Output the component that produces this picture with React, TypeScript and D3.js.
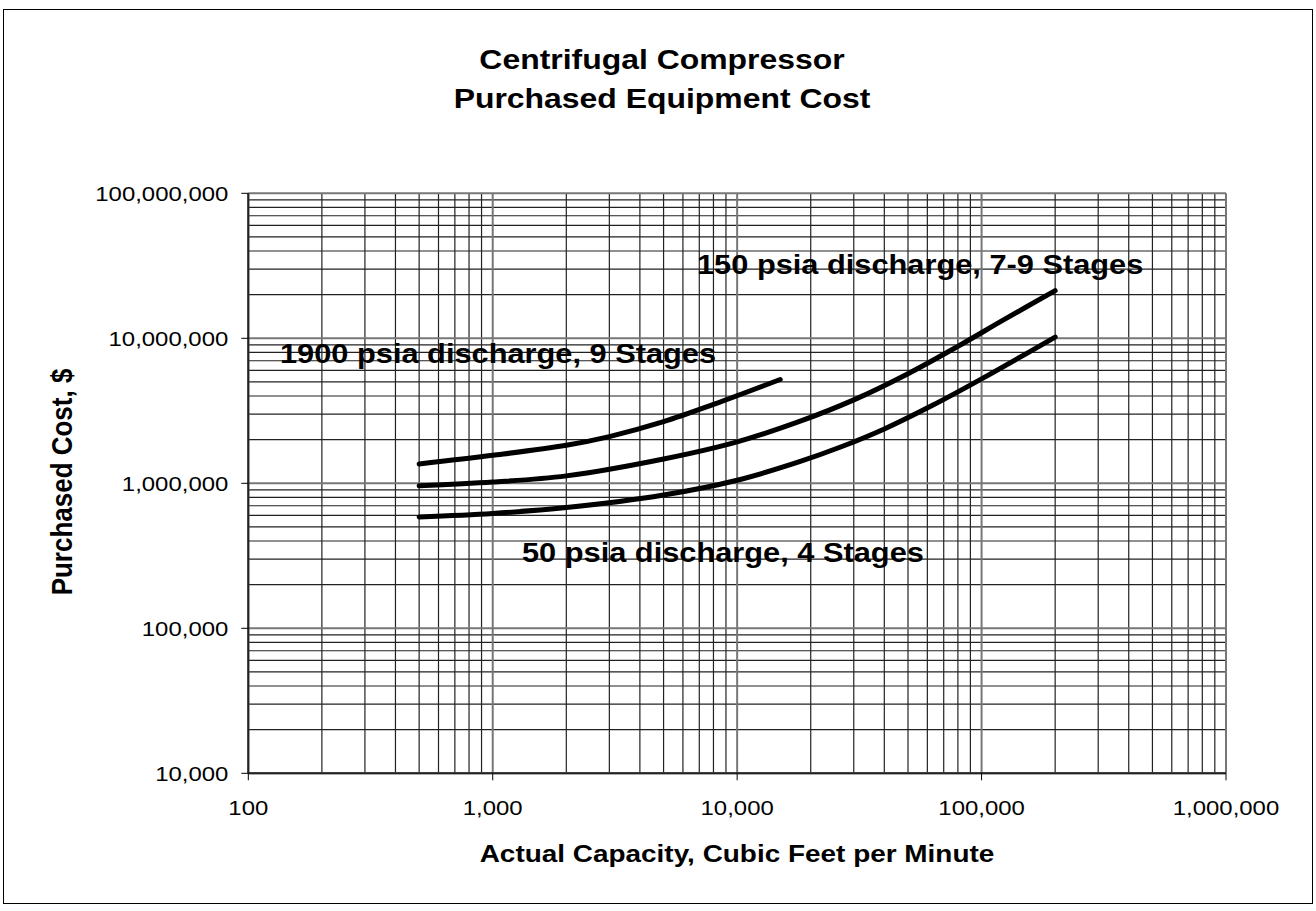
import React from "react";
import * as d3 from "d3";

const xTicks = [100, 1000, 10000, 100000, 1000000];
const yTicks = [10000, 100000, 1000000, 10000000, 100000000];

const cfm1900 = [500, 1000, 2000, 3000, 5000, 8000, 15000];
const cost1900 = [1.36e6, 1.56e6, 1.83e6, 2.1e6, 2.66e6, 3.5e6, 5.2e6];

const cfm150 = [500, 1000, 2000, 5000, 10000, 18000, 30000, 50000, 80000, 125000, 200000];
const cost150 = [0.96e6, 1.02e6, 1.125e6, 1.47e6, 1.93e6, 2.67e6, 3.76e6, 5.7e6, 8.8e6, 13.6e6, 21.3e6];

const cfm50 = [500, 1000, 2000, 5000, 10000, 18000, 27000, 40000, 63000, 100000, 200000];
const cost50 = [0.586e6, 0.62e6, 0.68e6, 0.83e6, 1.05e6, 1.41e6, 1.8e6, 2.37e6, 3.45e6, 5.25e6, 10.2e6];

const seriesLabels = [
  "1900 psia discharge, 9 Stages",
  "150 psia discharge, 7-9 Stages",
  "50 psia discharge, 4 Stages",
];

const FONT = "'Liberation Sans', Arial, Helvetica, sans-serif";
const SX = 1.14;

function T({ x, y, size, bold, anchor, children }: any) {
  return (
    <text
      transform={`translate(${x},${y}) scale(${SX},1)`}
      fontFamily={FONT}
      fontSize={size}
      fontWeight={bold ? "bold" : "normal"}
      textAnchor={anchor || "start"}
      fill="#000"
    >
      {children}
    </text>
  );
}

export default function App() {
  const W = 1316, H = 911;
  const L = 248.3, R = 1226, TOP = 193.3, BOT = 773.3;
  const x = d3.scaleLog().domain([100, 1e6]).range([L, R]);
  const y = d3.scaleLog().domain([1e4, 1e8]).range([BOT, TOP]);

  const minorX: number[] = [];
  for (let d = 100; d < 1e6; d *= 10) for (let k = 2; k <= 9; k++) minorX.push(d * k);
  const minorY: number[] = [];
  for (let d = 1e4; d < 1e8; d *= 10) for (let k = 2; k <= 9; k++) minorY.push(d * k);

  const line = d3
    .line<[number, number]>()
    .x((d) => x(d[0]))
    .y((d) => y(d[1]))
    .curve(d3.curveCatmullRom.alpha(0.5));

  const s1900 = cfm1900.map((c, i) => [c, cost1900[i]] as [number, number]);
  const s150 = cfm150.map((c, i) => [c, cost150[i]] as [number, number]);
  const s50 = cfm50.map((c, i) => [c, cost50[i]] as [number, number]);
  const fmt = d3.format(",");

  return (
    <svg width={W} height={H} style={{ position: "absolute", left: 0, top: 0, background: "#fff" }}>
      <rect x={3.5} y={9.5} width={1309} height={894} fill="#fff" stroke="#000" strokeWidth={1} />
      {minorX.map((v) => (
        <line key={"mx" + v} x1={x(v)} x2={x(v)} y1={TOP} y2={BOT} stroke="#222" strokeWidth={1.2} />
      ))}
      {minorY.map((v) => (
        <line key={"my" + v} x1={L} x2={R} y1={y(v)} y2={y(v)} stroke="#222" strokeWidth={1.2} />
      ))}
      {xTicks.map((v) => (
        <line key={"Mx" + v} x1={x(v)} x2={x(v)} y1={TOP} y2={BOT} stroke="#777" strokeWidth={2} />
      ))}
      {yTicks.map((v) => (
        <line key={"My" + v} x1={L} x2={R} y1={y(v)} y2={y(v)} stroke="#777" strokeWidth={2} />
      ))}
      <line x1={L} x2={L} y1={TOP} y2={BOT} stroke="#222" strokeWidth={2} />
      <line x1={L} x2={R} y1={BOT} y2={BOT} stroke="#222" strokeWidth={2} />
      {yTicks.map((v) => (
        <line key={"ty" + v} x1={L - 7} x2={L} y1={y(v)} y2={y(v)} stroke="#000" strokeWidth={1} />
      ))}
      {xTicks.map((v) => (
        <line key={"tx" + v} x1={x(v)} x2={x(v)} y1={BOT} y2={BOT + 7} stroke="#000" strokeWidth={1} />
      ))}
      {yTicks.map((v) => (
        <T key={"ly" + v} x={L - 20} y={y(v) + 7.5} size={21} anchor="end">{fmt(v)}</T>
      ))}
      {xTicks.map((v) => (
        <T key={"lx" + v} x={x(v)} y={815} size={21} anchor="middle">{fmt(v)}</T>
      ))}
      {[s1900, s150, s50].map((s, i) => (
        <path key={"c" + i} d={line(s) || ""} fill="none" stroke="#000" strokeWidth={5} strokeLinecap="round" />
      ))}
      <T x={280} y={363} size={27} bold>{seriesLabels[0]}</T>
      <T x={697} y={274} size={27} bold>{seriesLabels[1]}</T>
      <T x={522} y={562} size={27} bold>{seriesLabels[2]}</T>
      <T x={662} y={69} size={28} bold anchor="middle">Centrifugal Compressor</T>
      <T x={662} y={108} size={28} bold anchor="middle">Purchased Equipment Cost</T>
      <T x={737} y={862} size={24.5} bold anchor="middle">Actual Capacity, Cubic Feet per Minute</T>
      <g transform="translate(72,482)">
        <text transform="rotate(-90) scale(1,1.14)" fontFamily={FONT} fontSize={26} fontWeight="bold" textAnchor="middle" fill="#000">
          Purchased Cost, $
        </text>
      </g>
    </svg>
  );
}
